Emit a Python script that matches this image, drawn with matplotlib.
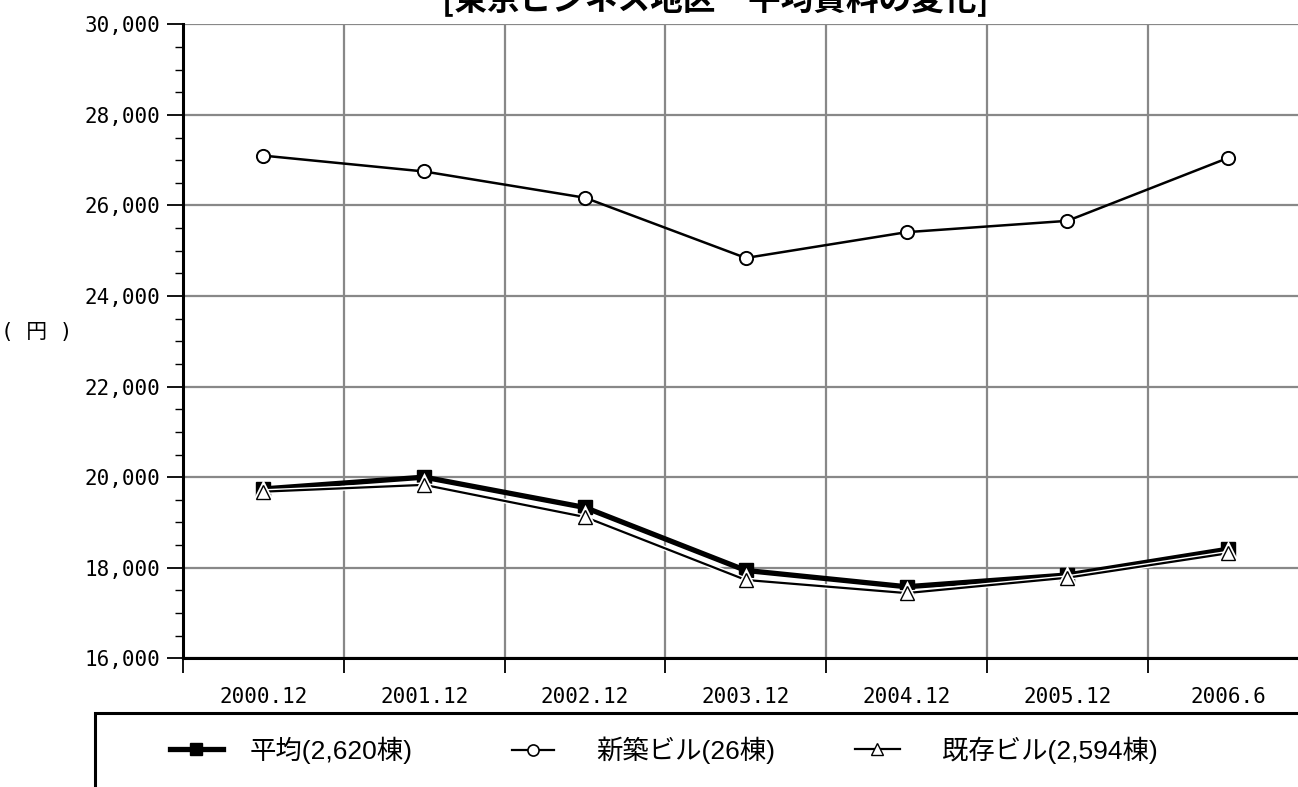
import matplotlib
matplotlib.use("Agg")
import matplotlib.pyplot as plt
import matplotlib.patheffects as pe
from matplotlib.lines import Line2D
from matplotlib.patches import Rectangle
from matplotlib.ticker import FixedLocator, MultipleLocator, NullFormatter, FuncFormatter
import numpy as np

# 東京ビジネス地区の平均賃料（円／坪）
periods = ["2000.12", "2001.12", "2002.12", "2003.12", "2004.12", "2005.12", "2006.6"]
avg_rent = [19740, 20000, 19330, 17940, 17580, 17840, 18410]
new_rent = [27100, 26750, 26170, 24840, 25410, 25660, 27050]
old_rent = [19680, 19830, 19120, 17730, 17440, 17780, 18320]
series_names = ["平均(2,620棟)", "新築ビル(26棟)", "既存ビル(2,594棟)"]

jp = ["Liberation Sans", "Noto Sans CJK JP"]
mono = "DejaVu Sans Mono"

W, H = 1298, 787
fig = plt.figure(figsize=(W / 100, H / 100), dpi=100)
ax = fig.add_axes([183 / W, (H - 658.3) / H, 1125.6 / W, 634 / H])

x = np.arange(len(periods))

ax.plot(x, new_rent, color="black", lw=1.8, marker="o", ms=9.5,
        mfc="white", mec="black", mew=1.4, zorder=4)
ax.plot(x, avg_rent, color="black", lw=3.8, marker="s", ms=10,
        mfc="black", mec="black", zorder=5)
ax.plot(x, old_rent, color="black", lw=1.6, marker="^", ms=10,
        mfc="white", mec="black", mew=1.0, zorder=6,
        path_effects=[pe.Stroke(linewidth=3.6, foreground="white"), pe.Normal()])

ax.set_xlim(-0.5, len(periods) - 0.5)
ax.set_ylim(16000, 30000)

# x: 区切り線は major、ラベルは minor に置く
ax.xaxis.set_major_locator(FixedLocator(np.arange(-0.5, len(periods), 1)))
ax.xaxis.set_major_formatter(NullFormatter())
ax.set_xticks(x, periods, minor=True)
ax.tick_params(axis="x", which="major", length=11, width=1.3, direction="out")
ax.tick_params(axis="x", which="minor", length=0, pad=21, labelsize=15)

ax.yaxis.set_major_locator(MultipleLocator(2000))
ax.yaxis.set_minor_locator(MultipleLocator(500))
ax.yaxis.set_major_formatter(FuncFormatter(lambda v, p: f"{int(v):,}"))
ax.tick_params(axis="y", which="major", length=11.5, width=1.3, pad=5, labelsize=15)
ax.tick_params(axis="y", which="minor", length=6, width=1.0)

for lab in ax.get_xticklabels(minor=True) + ax.get_yticklabels():
    lab.set_fontfamily(mono)

ax.grid(True, which="major", color="#888888", lw=1.6)
ax.set_axisbelow(True)
for side in ("top", "right"):
    ax.spines[side].set_visible(False)
for side in ("left", "bottom"):
    ax.spines[side].set_linewidth(2.2)
    ax.spines[side].set_zorder(7)

fig.text(37 / W, 1 - 332 / H, "( 円 )", ha="center", va="center",
         fontsize=15, fontfamily=[mono, "Noto Sans CJK JP"])
fig.text(715 / W, 1 + 1 / H, "[東京ビジネス地区　平均賃料の変化]", ha="center",
         va="center", fontsize=23.5, fontweight="bold", fontfamily=["Noto Sans CJK JP"])

# 凡例枠（右端・下端は図の外まで伸ばす）
fig.patches.append(Rectangle((95 / W, -0.1), 1.2, (H - 713) / H + 0.1,
                             transform=fig.transFigure, fill=False,
                             ec="black", lw=2.2))

handles = [
    Line2D([], [], color="black", lw=3.8, marker="s", ms=9, mfc="black"),
    Line2D([], [], color="black", lw=1.6, marker="o", ms=8, mfc="white", mew=1.2),
    Line2D([], [], color="black", lw=1.6, marker="^", ms=9, mfc="white", mew=1.0),
]
starts = [170, 512, 855]
hlens = [2.0, 1.6, 1.7]
pads = [1.0, 1.6, 1.6]
for h, name, x0, hl, tp in zip(handles, series_names, starts, hlens, pads):
    fig.legend(handles=[h], labels=[name], loc="center left",
               bbox_to_anchor=(x0 / W, 1 - 750 / H), frameon=False,
               borderpad=0, borderaxespad=0, handlelength=hl,
               handletextpad=tp, numpoints=1,
               prop={"family": jp, "size": 19})

fig.savefig("out.png", dpi=100)
